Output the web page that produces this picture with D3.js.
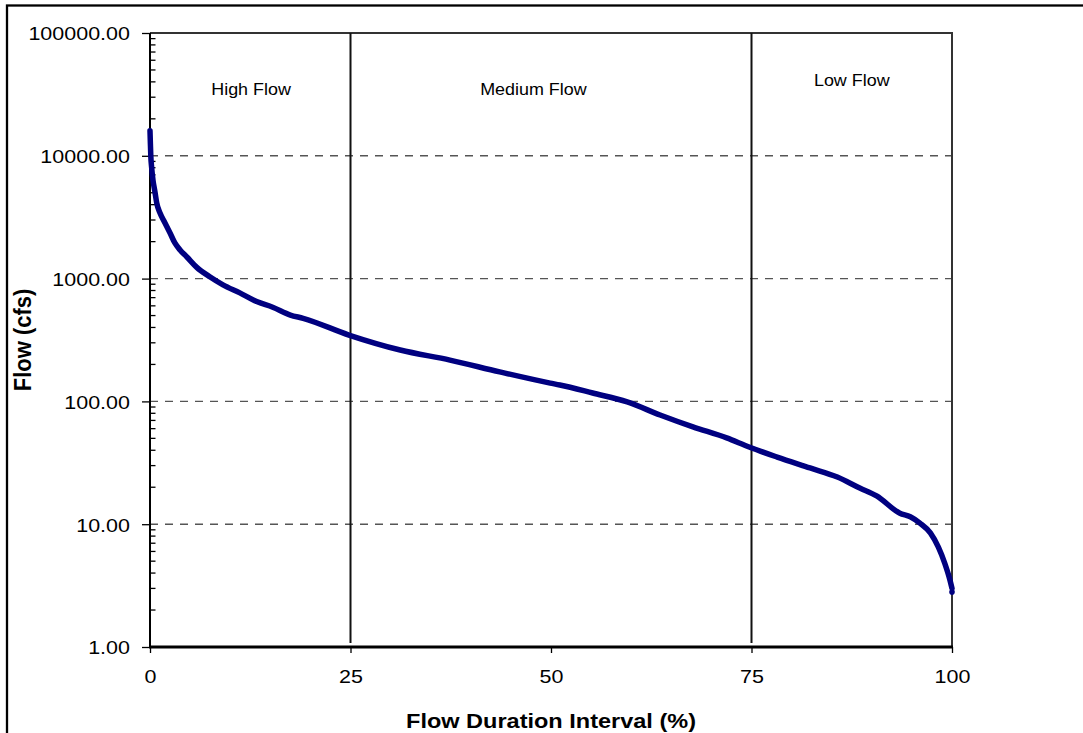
<!DOCTYPE html>
<html>
<head>
<meta charset="utf-8">
<script src="https://cdn.jsdelivr.net/npm/d3@7"></script>
<style>
  html, body { margin: 0; padding: 0; background: #fff; }
  svg { display: block; }
  text { font-family: "Liberation Sans", Arial, sans-serif; fill: #000; }
</style>
</head>
<body>
<svg id="chart" width="1083" height="733"></svg>
<script>
// Flow duration curve: percent of time a flow is exceeded vs. flow (cfs)
const durationPct = [0, 0.05, 0.1, 0.2, 0.37, 0.62, 0.84, 1.25, 1.87, 2.5, 3.1, 3.75, 4.6, 5.8, 7.5, 9.1,
  11.2, 13.3, 15.3, 17.5, 19.1, 24.8, 31.2, 37.4, 43.6, 49.9, 51.1, 55.2, 59.5, 63.6, 67.7, 71.9,
  74.7, 78.2, 82.3, 85.7, 88.5, 90.6, 93.5, 94.8, 96.0, 97.3, 98.3, 99.1, 99.75, 100];
const flowCfs = [16000, 12500, 10000, 8100, 6350, 5070, 4130, 3420, 2840, 2350, 1950, 1710, 1500, 1240, 1030, 890,
  765, 650, 585, 505, 475, 347, 262, 217, 174, 141, 136, 117, 99, 77.5, 62, 50.4,
  42.5, 35.2, 28.7, 24.2, 19.7, 17.0, 12.3, 11.5, 10.2, 8.5, 6.5, 4.8, 3.5, 3.0];
const lastPct = [100];
const lastFlow = [2.8];

const xTicks = [0, 25, 50, 75, 100];
const yTicks = [1, 10, 100, 1000, 10000, 100000];
const zoneBounds = [25, 75];
const zoneNames = ["High Flow", "Medium Flow", "Low Flow"];
const zonePct = [12.6, 47.8, 87.5];
const zoneFlow = [35000, 35000, 41500];

const svg = d3.select("#chart");
const plot = { left: 150, right: 952, top: 33, bottom: 647 };
const sx = 1.12; // horizontal glyph stretch

const x = d3.scaleLinear().domain([0, 100]).range([plot.left, plot.right]);
const y = d3.scaleLog().domain([1, 100000]).range([plot.bottom, plot.top]);

// outer frame
svg.append("rect").attr("x", 7).attr("y", 5.5).attr("width", 1100).attr("height", 760)
  .attr("fill", "none").attr("stroke", "#000").attr("stroke-width", 2.3);

// dashed gridlines at each decade
svg.append("g").selectAll("line").data(yTicks.filter(d => d > 1 && d < 100000)).join("line")
  .attr("x1", plot.left).attr("x2", plot.right)
  .attr("y1", d => y(d)).attr("y2", d => y(d))
  .attr("stroke", "#555").attr("stroke-width", 1.4).attr("stroke-dasharray", "8,7");

// plot frame (top and right)
svg.append("path")
  .attr("d", `M${plot.left},${plot.top}H${plot.right}V${plot.bottom}`)
  .attr("fill", "none").attr("stroke", "#333").attr("stroke-width", 2);

// zone boundaries
svg.append("g").selectAll("line").data(zoneBounds).join("line")
  .attr("x1", d => x(d)).attr("x2", d => x(d))
  .attr("y1", plot.top).attr("y2", plot.bottom - 4)
  .attr("stroke", "#111").attr("stroke-width", 2);

// y axis: major ticks outside, minor ticks inside
const minor = [];
for (let e = 0; e < 5; e++) for (let m = 2; m <= 9; m++) minor.push(m * Math.pow(10, e));
const yAxis = d3.axisLeft(y).tickValues(yTicks).tickFormat(d3.format(".2f")).tickSize(8).tickPadding(0);
const gy = svg.append("g").attr("transform", `translate(${plot.left},0)`).call(yAxis);
gy.select(".domain").remove();
gy.selectAll(".tick line").attr("stroke", "#000").attr("stroke-width", 1.3);
gy.selectAll(".tick text").remove();
gy.selectAll(".tick").append("text")
  .attr("transform", `translate(-20,0) scale(${sx},1)`)
  .attr("text-anchor", "end").attr("dy", "0.36em")
  .style("font-size", "19.2px")
  .text(d => d3.format(".2f")(d));
svg.append("g").selectAll("line").data(minor).join("line")
  .attr("x1", plot.left).attr("x2", plot.left + 5.5)
  .attr("y1", d => y(d)).attr("y2", d => y(d))
  .attr("stroke", "#000").attr("stroke-width", 1.3);
svg.append("line").attr("x1", plot.left).attr("x2", plot.left)
  .attr("y1", plot.top).attr("y2", plot.bottom)
  .attr("stroke", "#000").attr("stroke-width", 2);

// x axis
const xAxis = d3.axisBottom(x).tickValues(xTicks).tickSize(6).tickPadding(0);
const gx = svg.append("g").attr("transform", `translate(0,${plot.bottom})`).call(xAxis);
gx.select(".domain").remove();
gx.selectAll(".tick line").attr("stroke", "#000").attr("stroke-width", 1.3);
gx.selectAll(".tick text").remove();
gx.selectAll(".tick").append("text")
  .attr("transform", `translate(0,36) scale(${sx},1)`)
  .attr("text-anchor", "middle")
  .style("font-size", "19.2px")
  .text(d => d);
svg.append("line").attr("x1", plot.left - 1).attr("x2", plot.right + 1)
  .attr("y1", plot.bottom).attr("y2", plot.bottom)
  .attr("stroke", "#000").attr("stroke-width", 3);

// zone labels
svg.append("g").selectAll("text").data(zoneNames).join("text")
  .attr("transform", (d, i) => `translate(${x(zonePct[i])},${y(zoneFlow[i])}) scale(${sx},1)`)
  .attr("text-anchor", "middle").attr("dy", "0.35em")
  .style("font-size", "16px")
  .text(d => d);

// axis titles
svg.append("text")
  .attr("transform", `translate(${(plot.left + plot.right) / 2},728) scale(${sx},1)`)
  .attr("text-anchor", "middle")
  .style("font-size", "21px").style("font-weight", "bold")
  .text("Flow Duration Interval (%)");
svg.append("text")
  .attr("transform", `translate(31,${(plot.top + plot.bottom) / 2}) scale(${sx},1) rotate(-90)`)
  .attr("text-anchor", "middle")
  .style("font-size", "22px").style("font-weight", "bold")
  .text("Flow (cfs)");

// duration curve
const pts = durationPct.map((p, i) => [p, flowCfs[i]]);
const line = d3.line().x(d => x(d[0])).y(d => y(d[1])).curve(d3.curveMonotoneX);
svg.append("path").datum(pts)
  .attr("d", line)
  .attr("fill", "none").attr("stroke", "#000080").attr("stroke-width", 5.5)
  .attr("stroke-linejoin", "round").attr("stroke-linecap", "round");
svg.append("g").selectAll("circle").data(lastPct.map((p, i) => [p, lastFlow[i]])).join("circle")
  .attr("cx", d => x(d[0])).attr("cy", d => y(d[1])).attr("r", 2.8).attr("fill", "#000080");
</script>
</body>
</html>
